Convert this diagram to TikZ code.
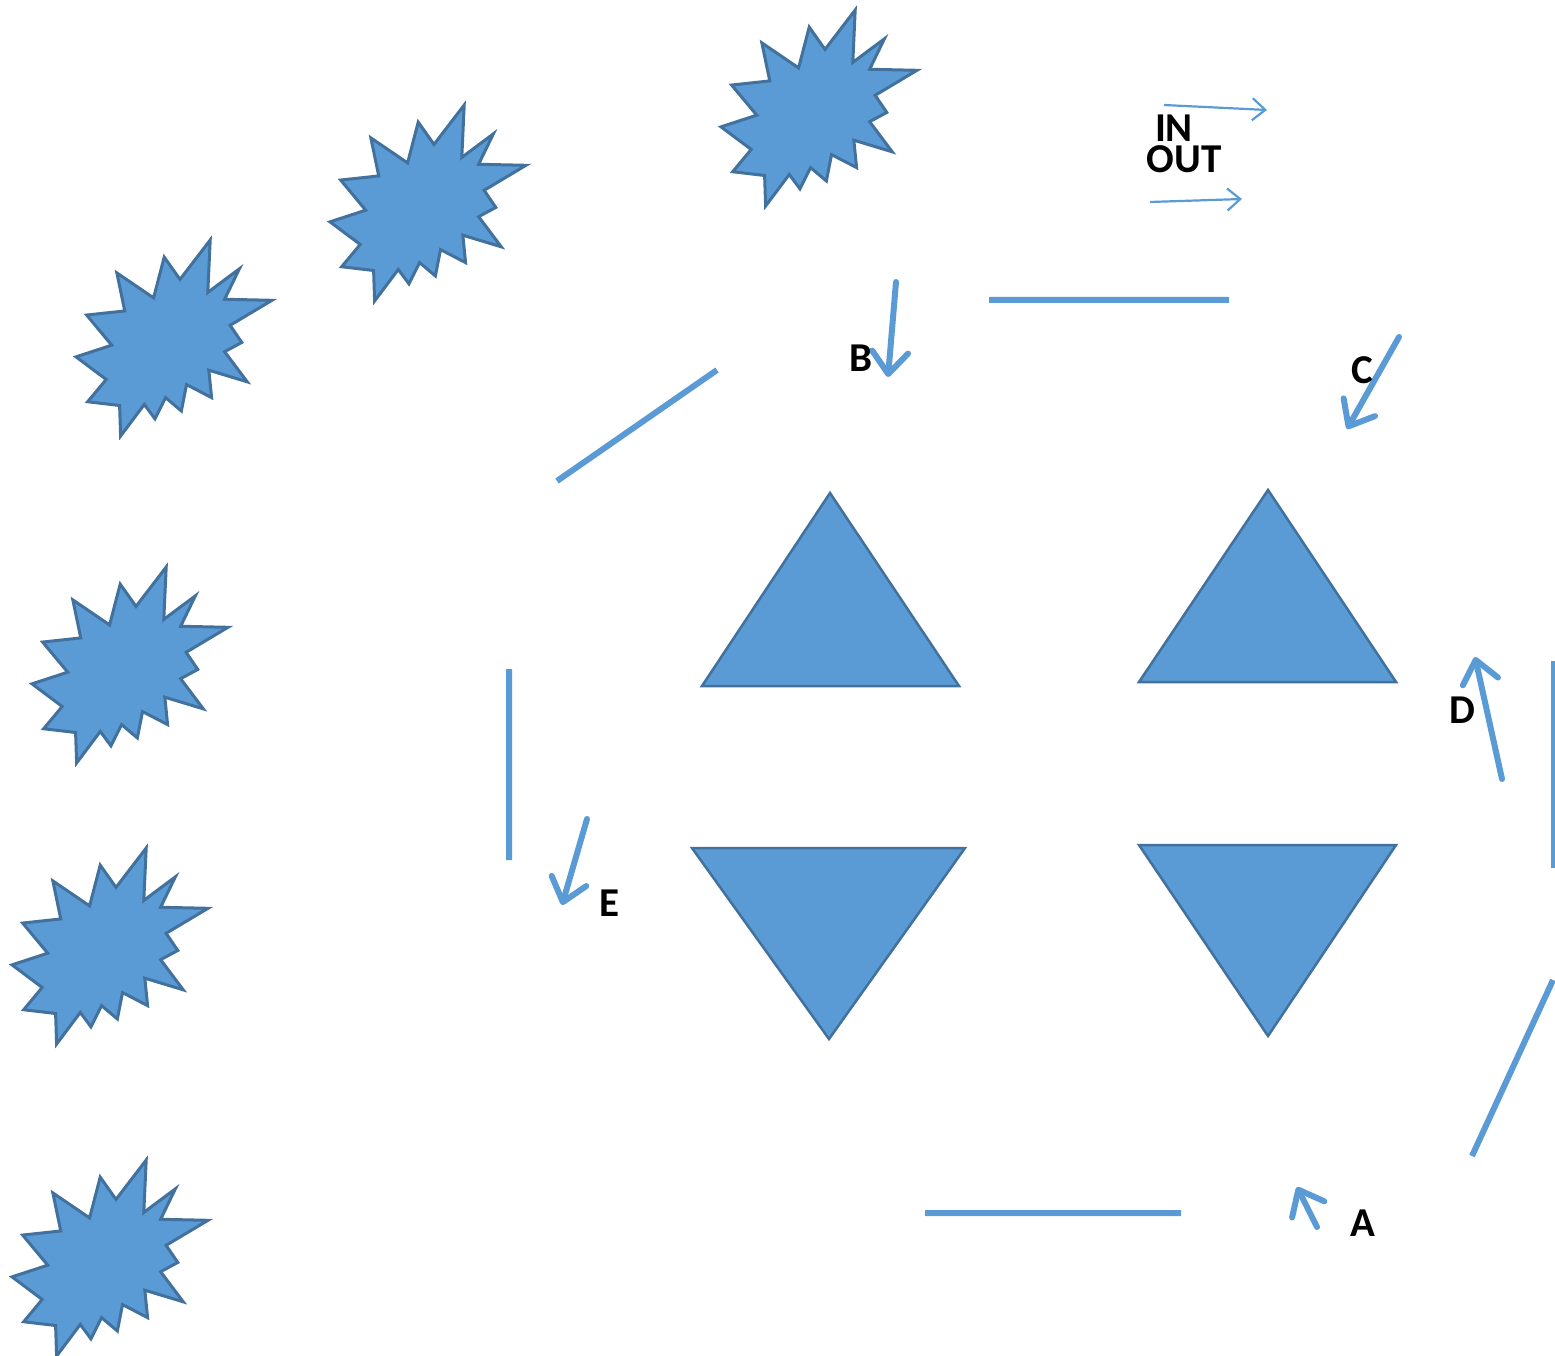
\documentclass[tikz,border=0pt]{standalone}
\usepackage{fontspec}
\setmainfont{Carlito}
\usetikzlibrary{arrows.meta}
\definecolor{shapeblue}{RGB}{91,155,213}
\definecolor{shapeedge}{RGB}{65,113,156}
\tikzset{
  burst/.pic={
    \filldraw[fill=shapeblue, draw=shapeedge, line width=3pt, x=0.9074pt, y=-0.9074pt]
      (114.62,43.42) -- (147.90,0) -- (145.25,57.77) -- (180.07,31.72) -- (163.80,65.32)
      -- (216,66.45) -- (169.85,94.02) -- (182.70,112.90) -- (163.80,123.10) -- (188.77,156.32)
      -- (146.40,143.50) -- (149.42,173.70) -- (121.80,159.35) -- (116.12,188.42) -- (98.72,173.70)
      -- (87.00,197.12) -- (75.27,181.25) -- (49.17,216) -- (48.05,182.40) -- (12.85,178.25)
      -- (33.30,153.70) -- (0,128.77) -- (39.35,115.92) -- (11.72,82.70) -- (53.72,78.17)
      -- (45.02,36.25) -- (85.50,63.82) -- (97.22,18.87) -- cycle;
  },
  tri/.style={fill=shapeblue, draw=shapeedge, line width=2.5pt},
  bar/.style={draw=shapeblue, line width=6pt},
  bigarrow/.style={draw=shapeblue, line width=6pt, line cap=round,
    -{Straight Barb[length=22pt, width=36pt, line width=6pt, round]}},
  thinarrow/.style={draw=shapeblue, line width=2.2pt,
    -{Straight Barb[length=13pt, width=22pt, line width=2.2pt]}},
  lbl/.style={font=\fontsize{41}{41}\selectfont\bfseries, inner sep=0pt}
}
\begin{document}
\begin{tikzpicture}[x=1pt, y=-1pt]
  \useasboundingbox (0,0) rectangle (1555,1356);
  % bursts
  \foreach \bx/\by in {721/10, 330/105, 76/240, 32/567, 12/848, 12/1160}
    \pic at (\bx,\by) {burst};
  % triangles
  \filldraw[tri] (830,493) -- (959,686) -- (702,686) -- cycle;
  \filldraw[tri] (1268,490) -- (1396,682) -- (1139,682) -- cycle;
  \filldraw[tri] (692,848) -- (965,848) -- (829,1039) -- cycle;
  \filldraw[tri] (1139,845) -- (1396,845) -- (1268,1036) -- cycle;
  % bars
  \coordinate (p1) at (557,481);  \coordinate (p2) at (717,370);
  \coordinate (q1) at (989,300);  \coordinate (q2) at (1229,300);
  \coordinate (r1) at (509,669);  \coordinate (r2) at (509,860);
  \coordinate (s1) at (1553,661); \coordinate (s2) at (1553,868);
  \coordinate (t1) at (1553,980); \coordinate (t2) at (1472,1156);
  \coordinate (u1) at (925,1213); \coordinate (u2) at (1181,1213);
  \draw[bar] (p1)--(p2) (q1)--(q2) (r1)--(r2) (t1)--(t2) (u1)--(u2);
  \draw[bar, line width=4pt] (s1)--(s2);
  % arrows
  \coordinate (B1) at (896,282);  \coordinate (B2) at (888,377);
  \coordinate (C1) at (1399,337); \coordinate (C2) at (1347,429);
  \coordinate (D1) at (1502,779); \coordinate (D2) at (1475,657);
  \coordinate (E1) at (587,819);  \coordinate (E2) at (562,905);
  \coordinate (A1) at (1317,1227); \coordinate (A2) at (1297,1187);
  \foreach \a in {A,B,C,D,E}
    \draw[bigarrow] (\a1)--(\a2);
  \coordinate (in1) at (1164,105);  \coordinate (in2) at (1267,110);
  \coordinate (out1) at (1150,202); \coordinate (out2) at (1242,199);
  \draw[thinarrow] (in1)--(in2);
  \draw[thinarrow] (out1)--(out2);
  % labels
  \foreach \p/\x/\y in {A/1363/1223, B/861/358, C/1362/370, D/1462/710, E/609/903, IN/1174/128, OUT/1184/159}
    \node[lbl] (l\p) at (\x,\y) {\p};
\end{tikzpicture}
\end{document}
